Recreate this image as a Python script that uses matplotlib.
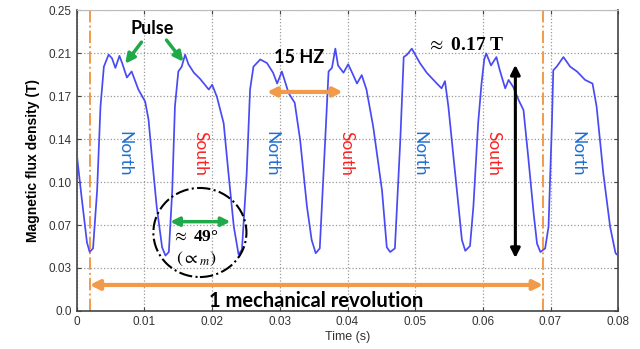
import numpy as np
import matplotlib
matplotlib.use('Agg')
import matplotlib.pyplot as plt
from matplotlib.patches import Ellipse

# waveform (time in s, flux density in T)
t = [0.0000, 0.0007, 0.0015, 0.0019, 0.0024, 0.0030, 0.0035, 0.0040, 0.0047, 0.0052,
     0.0057, 0.0063, 0.0067, 0.0074, 0.0081, 0.0091, 0.0101, 0.0106, 0.0111, 0.0118,
     0.0126, 0.0131, 0.0136, 0.0141, 0.0145, 0.0150, 0.0155, 0.0160, 0.0165, 0.0173,
     0.0182, 0.0195, 0.0200, 0.0207, 0.0217, 0.0224, 0.0232, 0.0239, 0.0244, 0.0251,
     0.0256, 0.0261, 0.0271, 0.0281, 0.0290, 0.0296, 0.0303, 0.0313, 0.0322, 0.0330,
     0.0340, 0.0347, 0.0353, 0.0359, 0.0367, 0.0372, 0.0377, 0.0382, 0.0386, 0.0394,
     0.0401, 0.0406, 0.0414, 0.0421, 0.0428, 0.0438, 0.0451, 0.0458, 0.0463, 0.0470,
     0.0478, 0.0483, 0.0488, 0.0495, 0.0507, 0.0517, 0.0532, 0.0539, 0.0544, 0.0549,
     0.0556, 0.0564, 0.0569, 0.0574, 0.0581, 0.0586, 0.0593, 0.0598, 0.0602, 0.0605,
     0.0612, 0.0620, 0.0625, 0.0633, 0.0638, 0.0645, 0.0653, 0.0660, 0.0667, 0.0675,
     0.0680, 0.0685, 0.0692, 0.0697, 0.0702, 0.0704, 0.0709, 0.0719, 0.0729, 0.0739,
     0.0751, 0.0762, 0.0768, 0.0778, 0.0788, 0.0796, 0.0800]
flux = [0.130, 0.095, 0.057, 0.049, 0.052, 0.100, 0.170, 0.203, 0.213, 0.210,
        0.202, 0.212, 0.206, 0.194, 0.199, 0.184, 0.174, 0.159, 0.128, 0.087,
        0.053, 0.046, 0.049, 0.100, 0.170, 0.199, 0.203, 0.213, 0.205, 0.198,
        0.193, 0.184, 0.188, 0.178, 0.156, 0.115, 0.070, 0.047, 0.051, 0.114,
        0.184, 0.203, 0.209, 0.206, 0.198, 0.189, 0.199, 0.181, 0.173, 0.142,
        0.087, 0.059, 0.048, 0.052, 0.142, 0.199, 0.202, 0.218, 0.204, 0.198,
        0.205, 0.199, 0.189, 0.196, 0.184, 0.153, 0.100, 0.053, 0.049, 0.052,
        0.142, 0.211, 0.213, 0.218, 0.206, 0.198, 0.189, 0.185, 0.191, 0.170,
        0.131, 0.087, 0.059, 0.050, 0.054, 0.087, 0.156, 0.189, 0.209, 0.214,
        0.204, 0.211, 0.200, 0.185, 0.192, 0.186, 0.175, 0.167, 0.128, 0.081,
        0.056, 0.049, 0.052, 0.070, 0.156, 0.200, 0.203, 0.211, 0.203, 0.199,
        0.192, 0.189, 0.170, 0.114, 0.070, 0.048, 0.046]

x_ticks = [0, 0.01, 0.02, 0.03, 0.04, 0.05, 0.06, 0.07, 0.08]
x_labels = ['0', '0.01', '0.02', '0.03', '0.04', '0.05', '0.06', '0.07', '0.08']
y_labels = ['0.0', '0.03', '0.07', '0.10', '0.14', '0.17', '0.21', '0.25']

pole_names = ['North', 'South', 'North', 'South', 'North', 'South', 'North']
pole_t = [0.0071, 0.0183, 0.0288, 0.0399, 0.0506, 0.0615, 0.0739]

rev_start, rev_end = 0.0019, 0.0689

ORANGE = '#F29A4A'
GREEN = '#1FAA4A'
SANS = ['Lato', 'DejaVu Sans']
SERIF = ['Liberation Serif', 'DejaVu Serif']

plt.rcParams['font.family'] = ['Liberation Sans', 'DejaVu Sans']
plt.rcParams['mathtext.fontset'] = 'stix'

fig = plt.figure(figsize=(6.4, 3.49), dpi=100)
ax = fig.add_axes([0.120, 0.109, 0.846, 0.862])

ax.plot(t, flux, color='#4A4AF5', lw=1.25, zorder=3)

ax.set_xlim(0, 0.08)
ax.set_ylim(0, 0.25)
ax.set_xticks(x_ticks)
ax.set_xticklabels(x_labels)
ax.set_yticks(np.linspace(0, 0.25, 8))
ax.set_yticklabels(y_labels)
ax.grid(True, linestyle=':', color='#999999', lw=0.9)
ax.tick_params(direction='in', top=True, right=True, length=3,
               labelsize=8.5, labelcolor='#333333', color='#444444')
for side in ['left', 'bottom', 'right']:
    ax.spines[side].set_color('#444444')
    ax.spines[side].set_linewidth(1.2)
ax.spines['top'].set_color('#bbbbbb')

ax.set_xlabel('Time (s)', fontsize=9, color='#333333', labelpad=2)
ax.set_ylabel('Magnetic flux density (T)', fontsize=10, fontweight='bold', labelpad=6)

# one mechanical revolution markers
for xv in [rev_start, rev_end]:
    ax.axvline(xv, color=ORANGE, ls='-.', lw=1.4, zorder=2)
ax.annotate('', xy=(rev_start, 0.0216), xytext=(rev_end, 0.0216),
            arrowprops=dict(arrowstyle='<|-|>', color=ORANGE, lw=3,
                            mutation_scale=14, shrinkA=0, shrinkB=0), zorder=4)
ax.text(0.0354, 0.0085, '1 mechanical revolution', ha='center', va='center',
        fontsize=14.5, fontweight='bold', family=SANS, zorder=5)

# pulse arrows
ax.text(0.0111, 0.235, 'Pulse', ha='center', va='center', fontsize=13,
        fontweight='bold', family=SANS)
ax.annotate('', xy=(0.0069, 0.2036), xytext=(0.0098, 0.2252),
            arrowprops=dict(arrowstyle='-|>', color=GREEN, lw=2.5, mutation_scale=14))
ax.annotate('', xy=(0.0160, 0.2053), xytext=(0.0130, 0.2269),
            arrowprops=dict(arrowstyle='-|>', color=GREEN, lw=2.5, mutation_scale=14))

# electrical frequency
ax.text(0.0328, 0.211, '15 HZ', ha='center', va='center', fontsize=13,
        fontweight='bold', family=SANS)
ax.annotate('', xy=(0.0281, 0.182), xytext=(0.0393, 0.182),
            arrowprops=dict(arrowstyle='<|-|>', color=ORANGE, lw=3,
                            mutation_scale=13, shrinkA=0, shrinkB=0), zorder=4)

# amplitude
ax.text(0.0575, 0.221, r'$\approx$ 0.17 T', ha='center', va='center', fontsize=14,
        fontweight='bold', family=SERIF)
ax.annotate('', xy=(0.0648, 0.2045), xytext=(0.0648, 0.044),
            arrowprops=dict(arrowstyle='<|-|>', color='black', lw=2.2,
                            mutation_scale=14, shrinkA=0, shrinkB=0), zorder=4)

# pole angle
ax.add_patch(Ellipse((0.01819, 0.0652), 0.01375, 0.074, fill=False,
                     ls='-.', lw=1.5, color='black', zorder=4))
ax.annotate('', xy=(0.0138, 0.0742), xytext=(0.0227, 0.0742),
            arrowprops=dict(arrowstyle='<|-|>', color=GREEN, lw=2.5,
                            mutation_scale=13, shrinkA=0, shrinkB=0), zorder=4)
ax.text(0.0175, 0.0612, r'$\approx$ 49°', ha='center', va='center', fontsize=12.5,
        fontweight='bold', family=SERIF, zorder=5)
ax.text(0.0177, 0.043, r'$(\propto_m)$', ha='center', va='center', fontsize=13, zorder=5)

for name, xv in zip(pole_names, pole_t):
    col = '#1F6FD0' if name == 'North' else '#FF2020'
    ax.text(xv, 0.131, name, rotation=270, ha='center', va='center', fontsize=12.5,
            color=col, family=SANS, zorder=5)

fig.savefig('out.png', dpi=100)
